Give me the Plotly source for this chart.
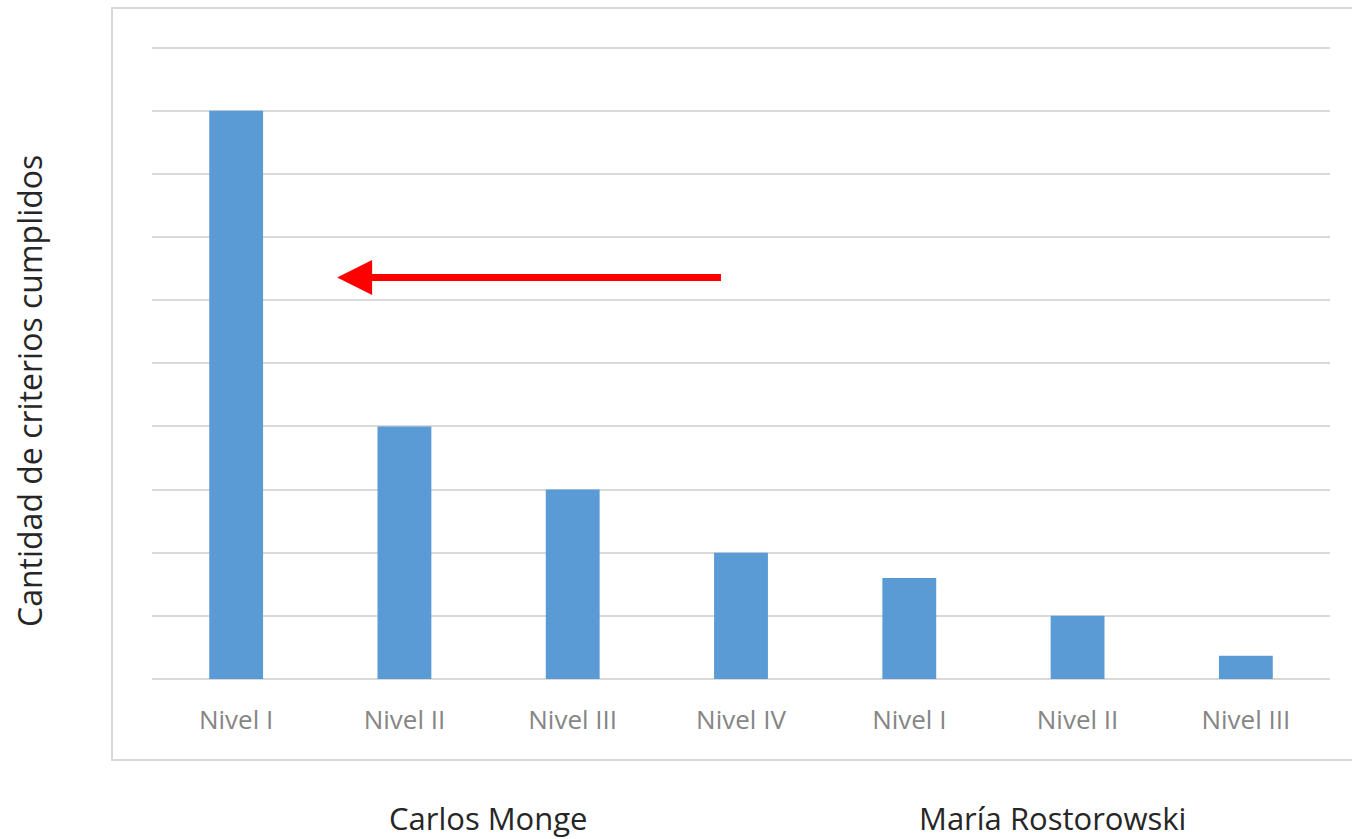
import plotly.graph_objects as go

categories = ["Nivel I", "Nivel II", "Nivel III", "Nivel IV", "Nivel I", "Nivel II", "Nivel III"]
values = [9, 4, 3, 2, 1.6, 1, 0.37]
groups = ["Carlos Monge", "María Rostorowski"]
group_centers = [1.5, 4.85]
y_title = "Cantidad de criterios cumplidos"

xpos = list(range(len(categories)))
font_family = "Open Sans, Lato, sans-serif"

fig = go.Figure()
fig.add_trace(go.Bar(
    x=xpos, y=values,
    marker=dict(color="#5b9bd5", line=dict(width=0)),
    width=0.32,
    showlegend=False,
    hoverinfo="skip",
))

fig.update_layout(
    width=1352, height=839,
    margin=dict(l=152, r=22, t=45, b=160),
    paper_bgcolor="white",
    plot_bgcolor="white",
    font=dict(family=font_family),
    xaxis=dict(
        range=[-0.5, len(categories) - 0.5],
        tickmode="array",
        tickvals=xpos,
        ticktext=categories,
        tickfont=dict(size=26, color="#858585"),
        showgrid=False,
        zeroline=False,
        showline=False,
        ticks="",
        ticklabelstandoff=23,
    ),
    yaxis=dict(
        range=[0, 10.04],
        tickmode="array",
        tickvals=list(range(0, 11)),
        showticklabels=False,
        showgrid=True,
        gridcolor="#d9d9d9",
        gridwidth=2,
        zeroline=True,
        zerolinecolor="#d9d9d9",
        zerolinewidth=2,
        showline=False,
        ticks="",
    ),
)

# chart border box
fig.add_shape(type="rect", xref="paper", yref="paper",
              x0=(112 - 152) / 1178, x1=(1362 - 152) / 1178,
              y0=(679 - 760) / 634, y1=(679 - 8) / 634,
              line=dict(color="#d9d9d9", width=2), fillcolor="rgba(0,0,0,0)", layer="below")

# y axis title outside the box
fig.add_annotation(text=y_title, xref="paper", yref="paper",
                   x=(30 - 152) / 1178, y=(679 - 391) / 634,
                   textangle=-90, showarrow=False,
                   font=dict(size=32, color="#262626", family=font_family),
                   xanchor="center", yanchor="middle")

# group labels
for g, c in zip(groups, group_centers):
    fig.add_annotation(text=g, xref="x", yref="paper", x=c, y=(679 - 818) / 634,
                       showarrow=False, xanchor="center", yanchor="middle",
                       font=dict(size=31, color="#262626", family=font_family))

# red arrow
fig.add_annotation(x=0.60, y=6.36, ax=2.89, ay=6.36, xref="x", yref="y",
                   axref="x", ayref="y", text="", showarrow=True,
                   arrowhead=2, arrowsize=1.0, arrowwidth=7, arrowcolor="#ff0000")

fig.write_html("out.html",
               config={"displayModeBar": False},
               post_script="document.body.style.margin='0';document.body.style.overflow='hidden';")
